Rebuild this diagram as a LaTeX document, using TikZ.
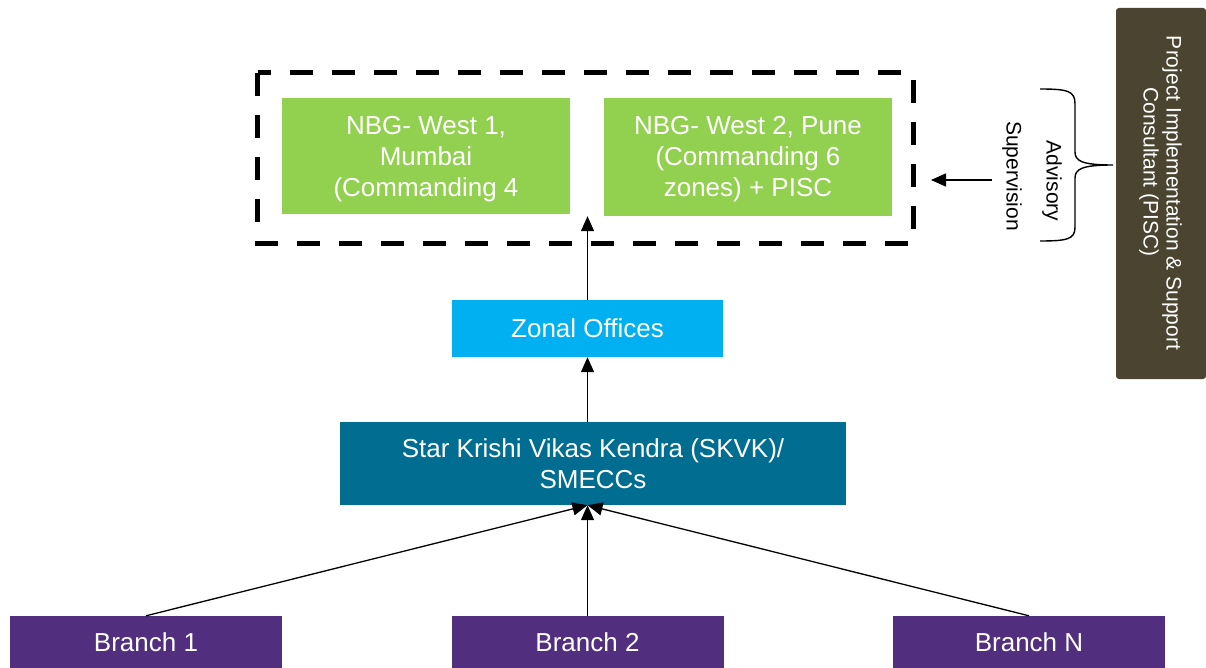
\documentclass[tikz,border=0pt]{standalone}
\usepackage{fontspec}
\setmainfont{Liberation Sans}
\usetikzlibrary{arrows.meta}
\definecolor{nbggreen}{HTML}{92D050}
\definecolor{zonalblue}{HTML}{00B0F0}
\definecolor{skvkteal}{HTML}{016D91}
\definecolor{branchpurple}{HTML}{512F7E}
\definecolor{piscbrown}{HTML}{4A4430}
\tikzset{
  box/.style={rectangle, inner sep=0pt, text=white, align=center,
    font=\fontsize{26}{31}\selectfont},
  boxtext/.style={inner sep=0pt, text=white, align=center,
    font=\fontsize{26}{31}\selectfont},
  conn/.style={draw=black, line width=1.3pt, -{Triangle[length=15pt,width=13pt]}},
  sidetext/.style={inner sep=0pt, rotate=-90, font=\fontsize{21}{24}\selectfont},
  groupline/.style={draw=black, line width=5pt, dash pattern=on 23pt off 19pt}
}
\begin{document}
\begin{tikzpicture}[x=1pt,y=-1pt]
\useasboundingbox (0,0) rectangle (1206,668);

% dashed group around the two NBG offices
\node[minimum width=655pt, minimum height=170pt, inner sep=0pt] (grp) at (585.5,158) {};
\draw[groupline] (grp.north west) rectangle (grp.south east);
\node[box, fill=nbggreen, minimum width=288pt, minimum height=116pt] (w1) at (426,156) {};
\node[boxtext] (w1text) at ([yshift=-3pt]w1.center) {NBG- West 1,\\Mumbai\\(Commanding 4};
\node[box, fill=nbggreen, minimum width=288pt, minimum height=118pt] (w2) at (748,157) {};
\node[boxtext] (w2text) at ([yshift=-2pt]w2.center) {NBG- West 2, Pune\\(Commanding 6\\zones) + PISC};

% hierarchy boxes
\node[box, fill=zonalblue, minimum width=271pt, minimum height=57pt] (zonal) at (587.5,328.5)
  {Zonal Offices};
\node[box, fill=skvkteal, minimum width=506pt, minimum height=83pt] (skvk) at (593,463.5)
  {Star Krishi Vikas Kendra (SKVK)/\\SMECCs};
\node[box, fill=branchpurple, minimum width=272pt, minimum height=52pt] (b1) at (146,642) {Branch 1};
\node[box, fill=branchpurple, minimum width=272pt, minimum height=52pt] (b2) at (587.5,642) {Branch 2};
\node[box, fill=branchpurple, minimum width=272pt, minimum height=52pt] (bn) at (1029,642) {Branch N};

% consultant panel
\node[fill=piscbrown, rounded corners=3pt, minimum width=90pt, minimum height=371pt,
      inner sep=0pt] (pisc) at (1161,193.5) {};
\node[sidetext, text=white] (pisc1) at (1172,193) {Project Implementation \& Support};
\node[sidetext, text=white] (pisc2) at (1149,172) {Consultant (PISC)};

% advisory brace and labels
\draw[line width=1.4pt] (1040,89) .. controls (1068,89) and (1075,91) .. (1075,104)
  -- (1075,152) .. controls (1075,161) and (1082,165) .. (1113,165)
  .. controls (1082,165) and (1075,169) .. (1075,178)
  -- (1075,227) .. controls (1075,239) and (1068,241) .. (1040,241);
\node[sidetext] (adv) at (1052,181) {Advisory};
\node[sidetext] (sup) at (1012,176) {Supervision};
\coordinate (advtail) at (992,180);
\coordinate (advtip) at (931,180);
\draw[conn] (advtail) -- (advtip);

% reporting lines
\draw[conn] (b1.north) -- (skvk.south -| b2.north);
\draw[conn] (b2.north) -- (skvk.south -| b2.north);
\draw[conn] (bn.north) -- (skvk.south -| b2.north);
\draw[conn] (zonal.south |- skvk.north) -- (zonal.south);
\draw[conn] (zonal.north) -- ([yshift=-2pt]zonal.north |- w1.south);
\end{tikzpicture}
\end{document}
